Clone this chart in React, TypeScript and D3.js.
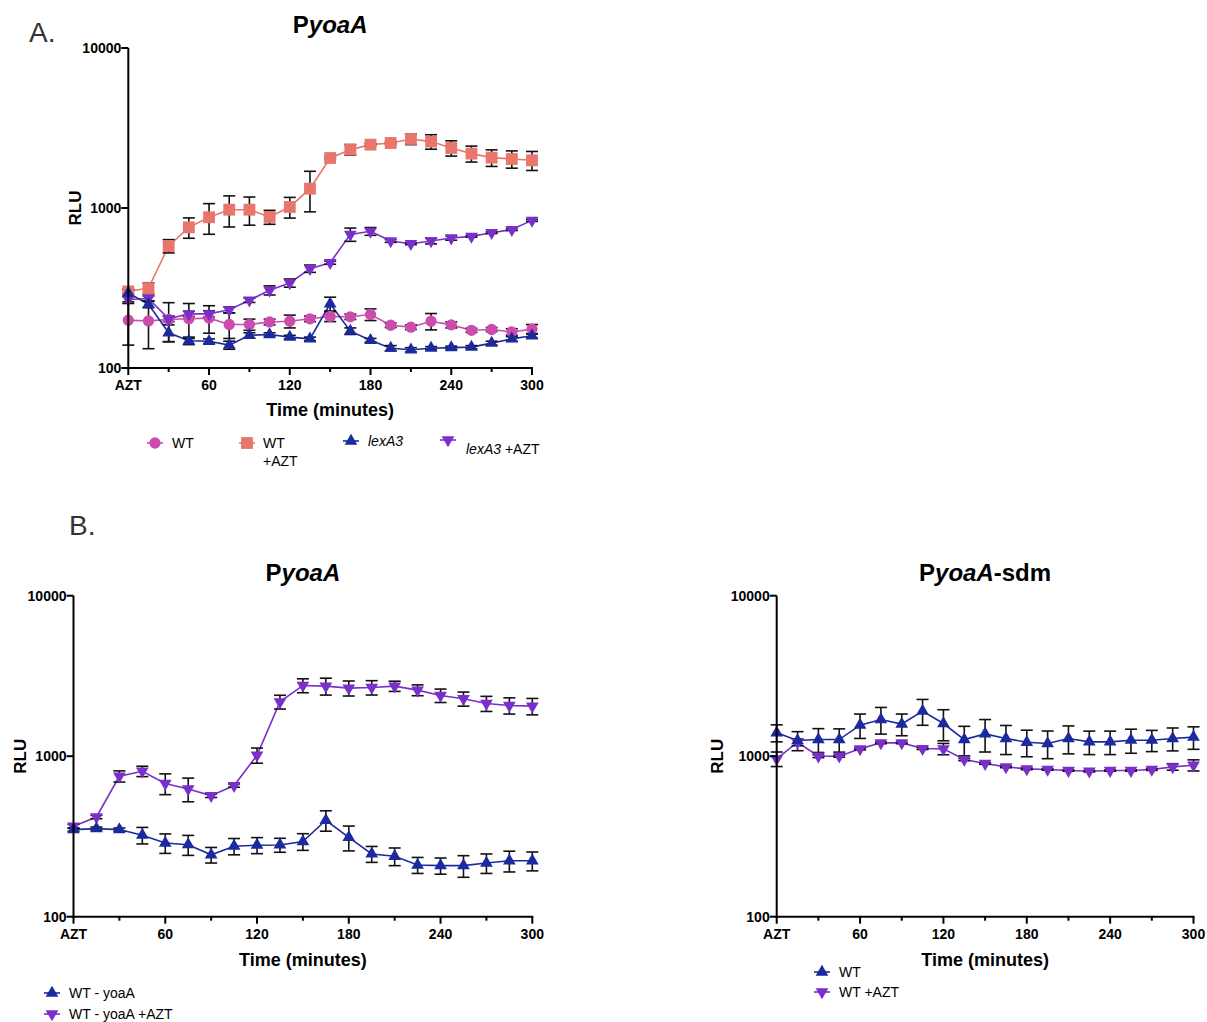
import React from "react";
import * as d3 from "d3";

// ---------- Data ----------
const times = [0, 15, 30, 45, 60, 75, 90, 105, 120, 135, 150, 165, 180, 195, 210, 225, 240, 255, 270, 285, 300];
const xTickValues = [0, 60, 120, 180, 240, 300];
const xTickLabels = ["AZT", "60", "120", "180", "240", "300"];
const yTickValues = [100, 1000, 10000];

// Panel A
const aWT = [199, 197, 201, 203, 205, 187, 187, 194, 196, 203, 210, 209, 216, 185, 180, 196, 186, 172, 174, 168, 175];
const aWTerr = [60, 65, 55, 50, 40, 34, 15, 8, 18, 8, 15, 8, 18, 6, 6, 23, 8, 5, 5, 8, 12];
const aWTAZT = [301, 316, 579, 757, 875, 976, 976, 879, 1015, 1321, 2053, 2316, 2488, 2548, 2700, 2600, 2371, 2187, 2064, 2024, 1986];
const aWTAZTerr = [10, 25, 55, 110, 190, 215, 195, 88, 150, 375, 40, 175, 40, 40, 210, 270, 260, 250, 245, 250, 270];
const aLex = [294, 250, 166, 148, 147, 139, 160, 162, 156, 152, 252, 170, 149, 133, 130, 133, 134, 135, 143, 152, 159];
const aLexErr = [15, 12, 20, 8, 5, 8, 6, 4, 4, 4, 25, 8, 4, 5, 4, 3, 3, 3, 4, 5, 5];
const aLexAZT = [268, 272, 203, 218, 218, 231, 265, 306, 340, 418, 455, 684, 715, 622, 598, 622, 649, 665, 701, 733, 837];
const aLexAZTerr = [15, 10, 8, 8, 10, 10, 8, 20, 20, 22, 10, 65, 40, 12, 8, 25, 20, 8, 8, 10, 12];

// Panel B left
const bWT = [349, 354, 349, 322, 288, 281, 243, 275, 279, 280, 294, 399, 312, 246, 238, 210, 208, 208, 216, 223, 223];
const bWTerr = [8, 8, 8, 38, 40, 40, 27, 32, 32, 28, 35, 58, 55, 28, 30, 24, 24, 32, 30, 33, 30];
const bWTAZT = [366, 418, 750, 806, 676, 625, 568, 656, 1014, 2182, 2760, 2733, 2656, 2680, 2733, 2581, 2390, 2280, 2130, 2070, 2050];
const bWTAZTerr = [10, 10, 60, 60, 100, 105, 15, 15, 110, 215, 275, 330, 285, 275, 200, 200, 230, 230, 230, 240, 240];

// Panel B right
const cWT = [1398, 1252, 1270, 1270, 1560, 1693, 1586, 1908, 1598, 1270, 1377, 1289, 1222, 1200, 1289, 1228, 1228, 1258, 1258, 1289, 1314];
const cWTerr = [170, 170, 215, 210, 270, 320, 245, 350, 350, 265, 315, 265, 230, 235, 255, 205, 205, 215, 190, 210, 210];
const cWTAZT = [962, 1222, 1000, 1000, 1111, 1211, 1211, 1116, 1111, 953, 900, 858, 834, 826, 814, 806, 814, 814, 826, 858, 879];
const cWTAZTerr = [100, 60, 20, 15, 15, 15, 15, 15, 90, 15, 10, 10, 10, 8, 8, 8, 8, 8, 10, 40, 70];

// ---------- Styles ----------
const C_PINK = "#CC4CAE";
const C_SALMON = "#E8766C";
const C_BLUE = "#1B2A9E";
const C_PURPLE = "#7A2FCB";
const FONT = "'Liberation Sans', Arial, Helvetica, sans-serif";

type Shape = "circle" | "square" | "up" | "down";

function symbolPath(shape: Shape): string {
  if (shape === "circle") return d3.symbol().type(d3.symbolCircle).size(100)()!;
  if (shape === "square") return d3.symbol().type(d3.symbolSquare).size(140)()!;
  return d3.symbol().type(d3.symbolTriangle).size(70)()!;
}

function Marker({ x, y, shape, color }: { x: number; y: number; shape: Shape; color: string }) {
  const rot = shape === "down" ? " rotate(180)" : "";
  return <path d={symbolPath(shape)} transform={`translate(${x},${y})${rot}`} fill={color} />;
}

type Series = { values: number[]; err: number[]; color: string; shape: Shape };

function Panel({
  x0, x1, yTop, yBottom, series, title, xLabelY, rluX,
}: {
  x0: number; x1: number; yTop: number; yBottom: number; series: Series[];
  title: React.ReactNode; xLabelY: number; rluX: number;
}) {
  const x = d3.scaleLinear().domain([0, 300]).range([x0, x1]);
  const y = d3.scaleLog().domain([100, 10000]).range([yBottom, yTop]);
  const minorTicks = [30, 90, 150, 210, 270];
  const cx = (x0 + x1) / 2;
  return (
    <g>
      {/* series lines */}
      {series.map((s, si) => {
        const line = d3.line<number>().x((_, i) => x(times[i])).y((v) => y(v));
        return <path key={"l" + si} d={line(s.values)!} fill="none" stroke={s.color} strokeWidth={1.6} />;
      })}
      {/* error bars */}
      {series.map((s, si) => (
        <g key={"e" + si} stroke="#111" strokeWidth={1.6}>
          {s.values.map((v, i) => {
            const lo = y(Math.max(v - s.err[i], 101));
            const hi = y(v + s.err[i]);
            const px = x(times[i]);
            return (
              <g key={i}>
                <line x1={px} x2={px} y1={lo} y2={hi} />
                <line x1={px - 6} x2={px + 6} y1={lo} y2={lo} />
                <line x1={px - 6} x2={px + 6} y1={hi} y2={hi} />
              </g>
            );
          })}
        </g>
      ))}
      {/* markers */}
      {series.map((s, si) => (
        <g key={"m" + si}>
          {s.values.map((v, i) => (
            <Marker key={i} x={x(times[i])} y={y(v)} shape={s.shape} color={s.color} />
          ))}
        </g>
      ))}
      {/* axes */}
      <g stroke="#000" strokeWidth={2}>
        <line x1={x0} x2={x0} y1={yTop} y2={yBottom + 1} />
        <line x1={x0 - 1} x2={x1 + 1} y1={yBottom} y2={yBottom} />
        {yTickValues.map((t) => (
          <line key={t} x1={x0 - 7} x2={x0} y1={y(t)} y2={y(t)} />
        ))}
        {xTickValues.map((t) => (
          <line key={t} x1={x(t)} x2={x(t)} y1={yBottom} y2={yBottom + 7} />
        ))}
        {minorTicks.map((t) => (
          <line key={t} x1={x(t)} x2={x(t)} y1={yBottom} y2={yBottom + 4} />
        ))}
      </g>
      <g fontFamily={FONT} fontWeight="bold" fontSize={14} fill="#000">
        {yTickValues.map((t) => (
          <text key={t} x={x0 - 7} y={y(t) + 5} textAnchor="end">{t}</text>
        ))}
        {xTickValues.map((t, i) => (
          <text key={t} x={x(t)} y={yBottom + 22} textAnchor="middle">{xTickLabels[i]}</text>
        ))}
      </g>
      <text x={cx} y={xLabelY} textAnchor="middle" fontFamily={FONT} fontWeight="bold" fontSize={18}>
        Time (minutes)
      </text>
      <text
        transform={`translate(${rluX},${(yTop + yBottom) / 2}) rotate(-90)`}
        textAnchor="middle" fontFamily={FONT} fontWeight="bold" fontSize={17}
      >
        RLU
      </text>
      <text x={cx} y={yTop - 15} textAnchor="middle" fontFamily={FONT} fontWeight="bold" fontSize={24}>
        {title}
      </text>
    </g>
  );
}

function LegendItem({ x, y, shape, color, children, tx, ty }: {
  x: number; y: number; shape: Shape; color: string; children: React.ReactNode; tx?: number; ty?: number;
}) {
  return (
    <g>
      <line x1={x - 8} x2={x + 8} y1={y} y2={y} stroke={color} strokeWidth={1.6} />
      <Marker x={x} y={y} shape={shape} color={color} />
      <text x={tx ?? x + 17} y={ty ?? y + 5} fontFamily={FONT} fontSize={14} fill="#000">
        {children}
      </text>
    </g>
  );
}

export default function App() {
  const W = 1207;
  const H = 1022;
  return (
    <svg width={W} height={H} style={{ position: "absolute", left: 0, top: 0, background: "#fff" }}>
      <rect width={W} height={H} fill="#fff" />
      <text x={29} y={42} fontFamily={FONT} fontSize={28} fill="#333">A.</text>
      <text x={69} y={535} fontFamily={FONT} fontSize={28} fill="#333">B.</text>

      <Panel
        x0={128.3} x1={532} yTop={48} yBottom={368}
        xLabelY={416} rluX={81}
        title={<><tspan>P</tspan><tspan fontStyle="italic">yoaA</tspan></>}
        series={[
          { values: aWT, err: aWTerr, color: C_PINK, shape: "circle" },
          { values: aWTAZT, err: aWTAZTerr, color: C_SALMON, shape: "square" },
          { values: aLexAZT, err: aLexAZTerr, color: C_PURPLE, shape: "down" },
          { values: aLex, err: aLexErr, color: C_BLUE, shape: "up" },
        ]}
      />
      <Panel
        x0={73.5} x1={532.3} yTop={595.7} yBottom={916.7}
        xLabelY={966} rluX={26}
        title={<><tspan>P</tspan><tspan fontStyle="italic">yoaA</tspan></>}
        series={[
          { values: bWTAZT, err: bWTAZTerr, color: C_PURPLE, shape: "down" },
          { values: bWT, err: bWTerr, color: C_BLUE, shape: "up" },
        ]}
      />
      <Panel
        x0={776.7} x1={1193.5} yTop={595.7} yBottom={916.7}
        xLabelY={966} rluX={723}
        title={<><tspan>P</tspan><tspan fontStyle="italic">yoaA</tspan><tspan>-sdm</tspan></>}
        series={[
          { values: cWTAZT, err: cWTAZTerr, color: C_PURPLE, shape: "down" },
          { values: cWT, err: cWTerr, color: C_BLUE, shape: "up" },
        ]}
      />

      {/* Legend A */}
      <LegendItem x={155} y={443} shape="circle" color={C_PINK} tx={172}>WT</LegendItem>
      <LegendItem x={247} y={443} shape="square" color={C_SALMON} tx={263}>WT</LegendItem>
      <text x={263} y={466} fontFamily={FONT} fontSize={14}>+AZT</text>
      <LegendItem x={351} y={441} shape="up" color={C_BLUE} tx={368}>
        <tspan fontStyle="italic">lexA3</tspan>
      </LegendItem>
      <LegendItem x={448} y={440} shape="down" color={C_PURPLE} tx={466} ty={454}>
        <tspan fontStyle="italic">lexA3</tspan><tspan> +AZT</tspan>
      </LegendItem>

      {/* Legend B left */}
      <LegendItem x={52} y={993} shape="up" color={C_BLUE} tx={69}>WT - yoaA</LegendItem>
      <LegendItem x={52} y={1014} shape="down" color={C_PURPLE} tx={69}>WT - yoaA +AZT</LegendItem>

      {/* Legend B right */}
      <LegendItem x={822} y={972} shape="up" color={C_BLUE} tx={839}>WT</LegendItem>
      <LegendItem x={822} y={992} shape="down" color={C_PURPLE} tx={839}>WT +AZT</LegendItem>
    </svg>
  );
}
